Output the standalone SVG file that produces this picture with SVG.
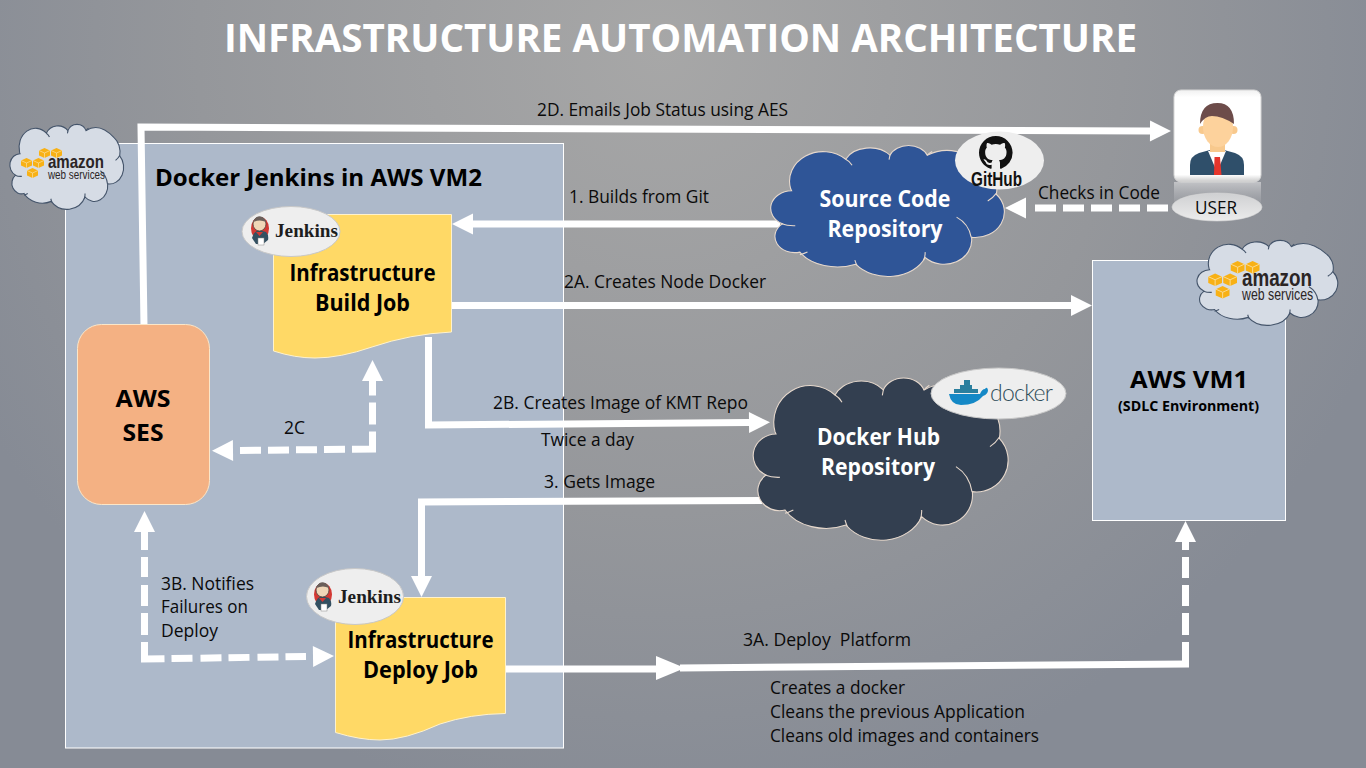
<svg xmlns="http://www.w3.org/2000/svg" width="1366" height="768" viewBox="0 0 1366 768">
<style>
text{font-family:"Open Sans","Noto Sans","Liberation Sans",sans-serif;}
.lbl{font-size:18px;fill:#0a0a0a;}
.hd{font-size:23.500px;font-weight:700;fill:#000;text-anchor:middle;}
.wh{font-size:23.500px;font-weight:700;fill:#fff;text-anchor:middle;}
.jk{font-family:"Liberation Serif",serif;font-weight:700;font-size:19px;fill:#1d1d1d;}
.con{fill:none;stroke:#fff;stroke-width:7;}
.solid{marker-end:url(#head);}
.logoBub{fill:#eeeeee;stroke:#c8c8c8;stroke-width:1;}
.cloudInner{fill:none;}
.cloudLine{vector-effect:non-scaling-stroke;stroke-width:1.1;}
</style>
<defs>
<radialGradient id="bg" gradientUnits="userSpaceOnUse" cx="660" cy="50" r="770">
<stop offset="0" stop-color="#a7a7a7"/>
<stop offset="0.6" stop-color="#95979b"/>
<stop offset="1" stop-color="#868b95"/>
</radialGradient>
<linearGradient id="tile" x1="0" y1="0" x2="0" y2="1"><stop offset="0" stop-color="#f1f1f1"/><stop offset="0.08" stop-color="#fff"/><stop offset="0.92" stop-color="#fff"/><stop offset="1" stop-color="#c9c9c9"/></linearGradient>
<linearGradient id="refl" x1="0" y1="0" x2="0" y2="1"><stop offset="0" stop-color="#c8c9cc" stop-opacity=".9"/><stop offset="1" stop-color="#9a9ca2" stop-opacity=".1"/></linearGradient>
<linearGradient id="uell" x1="0" y1="0" x2="0" y2="1"><stop offset="0" stop-color="#cfd0d2"/><stop offset="1" stop-color="#ececec"/></linearGradient>
<marker id="head" markerUnits="userSpaceOnUse" viewBox="0 0 21 21" refX="0" refY="10.5" markerWidth="21" markerHeight="21" orient="auto-start-reverse" overflow="visible"><path d="M0 0L21 10.5L0 21Z" fill="#fff"/></marker>
<marker id="headGap" markerUnits="userSpaceOnUse" viewBox="0 0 28 21" refX="0" refY="10.5" markerWidth="28" markerHeight="21" orient="auto-start-reverse" overflow="visible"><path d="M7 0L28 10.5L7 21Z" fill="#fff"/></marker>
<g id="cloud">
<path class="cloudLine" d="M105 215A110 110 0 0 1 285 105A85 70 0 0 1 430 90A65 55 0 0 1 552 90Q640 40 740 130A90 100 0 0 1 778 235A95 95 0 0 1 697 395A90 90 0 0 1 545 470A130 110 0 0 1 318 495A140 105 0 0 1 135 450A65 60 0 0 1 78 345A70 65 0 0 1 108 222Z"/>
<path class="cloudLine cloudInner" d="M75 345Q95 353 120 352M285 105Q298 112 306 127M430 90L427 106M552 90Q556 84 568 76M750 260Q768 248 778 232M648 320Q688 345 696 395M545 450Q546 466 540 480M315 480Q318 490 322 500M135 460Q146 457 160 450"/>
</g>
<g id="cube"><path d="M0 2.500L5.500 0L11 2.500V7.500L5.500 10L0 7.500Z" fill="#f8b115"/><path d="M0 2.500L5.500 5L11 2.500M5.500 5V10" fill="none" stroke="#fbe0a0" stroke-width=".7"/></g>
<g id="awsLogo">
<use href="#cube" x="39" y="148"/><use href="#cube" x="51" y="148"/>
<use href="#cube" x="21" y="158"/><use href="#cube" x="33" y="158"/>
<use href="#cube" x="27" y="168"/>
<text x="48" y="168" font-size="19" font-weight="700" fill="#2b2525" textLength="56" lengthAdjust="spacingAndGlyphs" style="font-family:'Liberation Sans',sans-serif">amazon</text>
<text x="48" y="179" font-size="12.500" fill="#2b2525" textLength="57" lengthAdjust="spacingAndGlyphs" style="font-family:'Liberation Sans',sans-serif">web services</text>
</g>
<g id="jenkinsLogo">
<ellipse cx="260" cy="228.500" rx="9" ry="11.500" fill="#d33833"/>
<path d="M252 238Q254 231 259 230L266 232Q269 235 268 240L263 244H256Z" fill="#335061"/>
<ellipse cx="259.500" cy="224" rx="6.500" ry="7" fill="#f0d6b7" stroke="#49403c" stroke-width=".8"/>
<path d="M253.500 222Q255 216 260 216.500Q265 217 266 222Q260 219 253.500 222Z" fill="#6b5f5a"/>
<path d="M256 232L263 232L259.500 236Z" fill="#d33833"/>
<rect x="258" y="238" width="6" height="7" fill="#fff" stroke="#888" stroke-width=".5"/>
<text class="jk" x="275" y="237" textLength="63" lengthAdjust="spacingAndGlyphs">Jenkins</text>
</g>
</defs>

<rect id="background" width="1366" height="768" fill="url(#bg)"/>
<text x="680.500" y="52" font-size="40" font-weight="700" fill="#fff" text-anchor="middle" textLength="913" lengthAdjust="spacingAndGlyphs">INFRASTRUCTURE AUTOMATION ARCHITECTURE</text>

<g id="panel-vm2">
<rect x="65.500" y="143.500" width="498" height="604.500" fill="#adb9ca" stroke="#fff" stroke-width="1"/>
<text x="155" y="186" font-size="24" font-weight="700" fill="#000" textLength="327" lengthAdjust="spacingAndGlyphs">Docker Jenkins in AWS VM2</text>
</g>
<g id="panel-vm1">
<rect x="1092.500" y="260.500" width="193" height="260" fill="#adb9ca" stroke="#fff" stroke-width="1"/>
<text x="1189" y="388" font-size="24" font-weight="700" fill="#000" text-anchor="middle" textLength="118" lengthAdjust="spacingAndGlyphs">AWS VM1</text>
<text x="1188.500" y="411" font-size="14" font-weight="700" fill="#000" text-anchor="middle" textLength="141" lengthAdjust="spacingAndGlyphs">(SDLC Environment)</text>
</g>

<g id="connectors">
<path class="con solid" d="M144 326L141 127L1150 131"/>
<path class="con solid" d="M780 224H473"/>
<path class="con" d="M1168 208H1033" stroke-dasharray="21 7" marker-end="url(#headGap)"/>
<path class="con solid" d="M452 305.500H1071"/>
<path class="con solid" d="M428.500 337V425L749 422.500"/>
<path class="con solid" d="M762 500.500L421.500 502V576"/>
<path class="con" d="M240 450.500L372.500 449V381" stroke-dasharray="21 7 21 7 21 7 21 7 38 7 22 7 15 99" marker-start="url(#headGap)" marker-end="url(#head)"/>
<path class="con" d="M144.500 532V659L306 656.500" stroke-dasharray="18 7 20 8 21 7 22 7 37 7 21 8 21 7 21 8 21 7 21 99" marker-start="url(#head)" marker-end="url(#headGap)"/>
<path class="con" d="M506 669H658"/>
<path d="M656 656L685 668L656 680Z" fill="#fff"/>
<path class="con" d="M680 668L1189 664"/>
<path class="con" d="M1185.500 664V542" stroke-dasharray="22 7 22 7 21 7 21 7 8 99" marker-end="url(#head)"/>
</g>

<g id="labels">
<text class="lbl" x="537" y="116" textLength="251" lengthAdjust="spacingAndGlyphs">2D. Emails Job Status using AES</text>
<text class="lbl" x="569" y="203" textLength="140" lengthAdjust="spacingAndGlyphs">1. Builds from Git</text>
<text class="lbl" x="1038" y="199" textLength="122" lengthAdjust="spacingAndGlyphs">Checks in Code</text>
<text class="lbl" x="564" y="288" textLength="202" lengthAdjust="spacingAndGlyphs">2A. Creates Node Docker</text>
<text class="lbl" x="493" y="409" textLength="255" lengthAdjust="spacingAndGlyphs">2B. Creates Image of KMT Repo</text>
<text class="lbl" x="541" y="446" textLength="93" lengthAdjust="spacingAndGlyphs">Twice a day</text>
<text class="lbl" x="544" y="488" textLength="111" lengthAdjust="spacingAndGlyphs">3. Gets Image</text>
<text class="lbl" x="284" y="434" textLength="21" lengthAdjust="spacingAndGlyphs">2C</text>
<text class="lbl" x="161" y="590" textLength="93" lengthAdjust="spacingAndGlyphs">3B. Notifies</text>
<text class="lbl" x="161" y="613" textLength="87" lengthAdjust="spacingAndGlyphs">Failures on</text>
<text class="lbl" x="161" y="637" textLength="57" lengthAdjust="spacingAndGlyphs">Deploy</text>
<text class="lbl" x="743" y="646" textLength="168" lengthAdjust="spacingAndGlyphs" xml:space="preserve">3A. Deploy  Platform</text>
<text class="lbl" x="770" y="694" textLength="135" lengthAdjust="spacingAndGlyphs">Creates a docker</text>
<text class="lbl" x="770" y="718" textLength="255" lengthAdjust="spacingAndGlyphs">Cleans the previous Application</text>
<text class="lbl" x="770" y="742" textLength="269" lengthAdjust="spacingAndGlyphs">Cleans old images and containers</text>
</g>

<g id="node-aws-ses">
<rect x="77.500" y="324.500" width="132" height="180" rx="24" fill="#f4b183" stroke="#fbe6c8" stroke-width="1"/>
<text class="hd" x="143" y="407" style="font-size:24px" textLength="55" lengthAdjust="spacingAndGlyphs">AWS</text>
<text class="hd" x="143" y="441" style="font-size:24px" textLength="41" lengthAdjust="spacingAndGlyphs">SES</text>
</g>

<g id="node-build-job">
<path d="M273.500 214.500H451.500V332Q410 334 372 347Q340 358 315 358Q295 358 273.500 351Z" fill="#ffd966" stroke="#fff2cc" stroke-width="1"/>
<ellipse class="logoBub" cx="291" cy="231.500" rx="49" ry="25"/>
<use href="#jenkinsLogo"/>
<text class="hd" x="362.500" y="281" textLength="146" lengthAdjust="spacingAndGlyphs">Infrastructure</text>
<text class="hd" x="362.500" y="311" textLength="95" lengthAdjust="spacingAndGlyphs">Build Job</text>
</g>

<g id="node-deploy-job">
<path d="M335.500 597.500H505.500V713.500Q470 714 440 724Q405 740 380 740Q360 740 335.500 732.500Z" fill="#ffd966" stroke="#fff2cc" stroke-width="1"/>
<ellipse class="logoBub" cx="355" cy="596.500" rx="48.500" ry="28"/>
<use href="#jenkinsLogo" transform="translate(63 366)"/>
<text class="hd" x="420.500" y="648" textLength="146" lengthAdjust="spacingAndGlyphs">Infrastructure</text>
<text class="hd" x="420.500" y="678" textLength="115" lengthAdjust="spacingAndGlyphs">Deploy Job</text>
</g>

<g id="node-source-repo">
<use href="#cloud" transform="translate(758.600 131) scale(.3055 .2691)" fill="#2f5597" stroke="#e6d8cc"/>
<ellipse cx="999.500" cy="160.500" rx="44.500" ry="29" fill="#eeeeee"/>
<path transform="translate(979 136) scale(2.1)" fill="#111" d="M8 0C3.580 0 0 3.580 0 8c0 3.540 2.290 6.530 5.470 7.590.4.070.55-.17.55-.38 0-.19-.01-.82-.01-1.490-2.010.37-2.530-.49-2.690-.94-.09-.23-.48-.94-.82-1.130-.28-.15-.68-.52-.01-.53.63-.01 1.080.58 1.230.82.72 1.210 1.870.87 2.330.66.07-.52.28-.87.51-1.070-1.780-.2-3.640-.89-3.640-3.950 0-.87.31-1.590.82-2.150-.08-.2-.36-1.020.08-2.120 0 0 .67-.21 2.200.82.64-.18 1.320-.27 2-.27.68 0 1.360.09 2 .27 1.530-1.040 2.200-.82 2.200-.82.44 1.100.16 1.920.08 2.120.51.56.82 1.270.82 2.150 0 3.070-1.870 3.750-3.650 3.950.29.25.54.73.54 1.480 0 1.070-.01 1.930-.01 2.200 0 .21.15.46.55.38A8.013 8.013 0 0016 8c0-4.420-3.580-8-8-8z"/>
<text x="996.500" y="186" font-size="20" font-weight="700" fill="#111" text-anchor="middle" textLength="51" lengthAdjust="spacingAndGlyphs" style="font-family:'Liberation Sans',sans-serif">GitHub</text>
<text class="wh" x="885" y="207" textLength="131" lengthAdjust="spacingAndGlyphs">Source Code</text>
<text class="wh" x="885" y="237" textLength="115" lengthAdjust="spacingAndGlyphs">Repository</text>
</g>

<g id="node-docker-hub">
<use href="#cloud" transform="translate(740 360) scale(.3333)" fill="#333f50" stroke="#e6d8cc"/>
<ellipse class="logoBub" cx="998.500" cy="393.500" rx="67.500" ry="25.500"/>
<path d="M949 394H980Q982 389 985 389Q987 386 988 390Q988 394 983 396Q976 405 961 405Q951 405 949 394Z" fill="#1488c6"/>
<path d="M954 389h24v4h-24zM960 385h12v4h-12zM964 380h6v5h-6z" fill="#2b7f9e"/>
<text x="990" y="401" font-size="23" font-weight="300" fill="#2f4d5a" textLength="63" lengthAdjust="spacing" style="font-family:'Lato',sans-serif">docker</text>
<text class="wh" x="878.500" y="445" textLength="123" lengthAdjust="spacingAndGlyphs">Docker Hub</text>
<text class="wh" x="878" y="475" textLength="114" lengthAdjust="spacingAndGlyphs">Repository</text>
</g>

<g id="node-user">
<rect x="1174" y="182" width="87" height="30" fill="url(#refl)"/>
<rect x="1174" y="90" width="87" height="92" rx="7" fill="url(#tile)" stroke="#d5d5d5" stroke-width="1"/>
<path d="M1190 175V165Q1190 156 1199 153L1210 150H1224L1235 153Q1244 156 1244 165V175Z" fill="#2f4f6a"/>
<path d="M1208 151L1217 172L1226 151Z" fill="#fff"/>
<path d="M1214.500 157H1220L1221.500 175H1214Z" fill="#e5352c"/>
<rect x="1210" y="140" width="15" height="12" fill="#f8c98d"/>
<circle cx="1202.500" cy="130" r="4" fill="#f8c98d"/><circle cx="1233.500" cy="130" r="4" fill="#f8c98d"/>
<ellipse cx="1218" cy="127" rx="15" ry="20" fill="#fdd29c"/>
<path d="M1200 124Q1200 103 1217.500 103Q1234 103 1234 124Q1222 116 1212 116Q1205 116 1200 124Z" fill="#6d4c4a"/>
<ellipse cx="1217" cy="207" rx="45" ry="14" fill="url(#uell)" stroke="#d8d8d8" stroke-width=".6"/>
<text class="lbl" x="1195" y="214" textLength="42" lengthAdjust="spacingAndGlyphs">USER</text>
</g>

<g id="node-aws-cloud-left">
<use href="#cloud" transform="translate(3.940 114.900) scale(.1488 .1747)" fill="#d6dce5" stroke="#44546a"/>
<use href="#awsLogo"/>
</g>
<g id="node-aws-cloud-right">
<use href="#cloud" transform="translate(1189.700 230.900) scale(.1841 .1747)" fill="#d6dce5" stroke="#44546a"/>
<use href="#awsLogo" transform="translate(1182 76) scale(1.25)"/>
</g>
</svg>
